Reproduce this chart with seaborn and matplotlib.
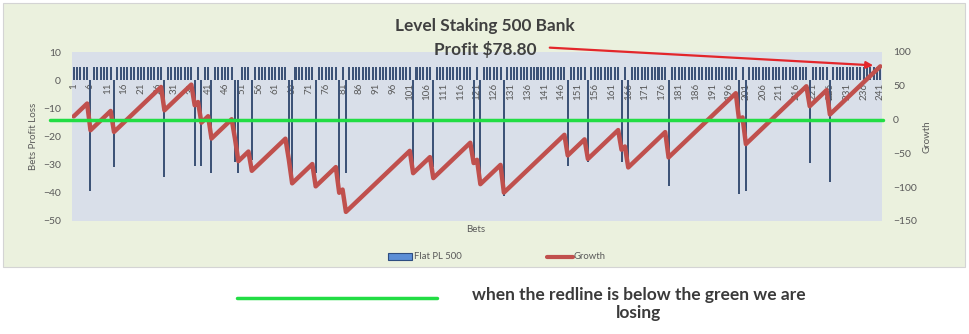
import numpy as np
import pandas as pd
import matplotlib
matplotlib.use("Agg")
import matplotlib.pyplot as plt
from matplotlib.patches import Rectangle, FancyArrowPatch
from matplotlib.lines import Line2D
import seaborn as sns

# Betting record: every bet is a level-stake win unless listed as a loss
n_bets = 241
win_return = 4.75
loss_bets = [6, 13, 28, 37, 39, 42, 49, 50, 54, 65, 66, 73, 80, 82, 102, 108,
             120, 122, 129, 148, 154, 164, 166, 178, 199, 201, 220, 226]
loss_amounts = [39.5, 31.0, 34.5, 30.5, 30.5, 33.0, 29.0, 33.0, 28.5, 30.5,
                35.5, 33.0, 38.0, 33.0, 33.0, 31.0, 30.0, 36.0, 41.0, 30.5,
                29.0, 29.0, 31.0, 37.45, 40.5, 39.5, 29.5, 36.0]
tick_bets = list(range(1, 242, 5))
left_ticks = [-50, -40, -30, -20, -10, 0, 10]
right_ticks = [-150, -100, -50, 0, 50, 100]

bets = np.arange(1, n_bets + 1)
flat_pl = np.full(n_bets, win_return)
for b, amt in zip(loss_bets, loss_amounts):
    flat_pl[b - 1] = -amt
growth = np.cumsum(flat_pl)
final_profit = growth[-1]

df = pd.DataFrame({"Bet": bets, "Flat PL 500": flat_pl, "Growth": growth})

sns.set_style("white")
plt.rcParams["font.family"] = ["Lato", "DejaVu Sans"]

W, H = 970, 334
fig = plt.figure(figsize=(W / 100, H / 100), dpi=100)
fig.patch.set_facecolor("white")

def fx(px):
    return px / W

def fy(py):
    return 1 - py / H

# chart area background
fig.add_artist(Rectangle((fx(3), fy(267)), fx(962), 264 / H,
                         transform=fig.transFigure, facecolor="#EBF1DE",
                         edgecolor="#D4D4D4", lw=0.8, zorder=-5))

ax = fig.add_axes([fx(72), fy(221), fx(810), 169 / H])
ax.set_facecolor("#D9DFE9")

bar_color = "#3D5377"
sns.barplot(data=df, x="Bet", y="Flat PL 500", native_scale=True,
            color=bar_color, saturation=1, width=0.6, errorbar=None,
            linewidth=0, edgecolor=bar_color, ax=ax)
ax.set_ylim(-50, 10)
ax.set_yticks(left_ticks)
ax.set_xticks(tick_bets)
ax.set_xticklabels([str(b) for b in tick_bets])
for s in ax.spines.values():
    s.set_visible(False)
ax.spines["bottom"].set_position(("data", 0))
ax.tick_params(axis="x", length=0, pad=2, labelsize=7, labelcolor="#595959",
               labelrotation=90)
ax.tick_params(axis="y", length=0, pad=8, labelsize=7.5, labelcolor="#595959")
ax.set_xlabel("")
ax.set_ylabel("Bets Profit Loss", fontsize=7, color="#595959")
ax.yaxis.set_label_coords((38 - 72) / 810, 0.5)

ax2 = ax.twinx()
sns.lineplot(data=df, x="Bet", y="Growth", ax=ax2, color="#C0504D",
             lw=3.2, zorder=3)
ax2.set_ylim(-150, 100)
ax2.set_yticks(right_ticks)
for s in ax2.spines.values():
    s.set_visible(False)
ax2.tick_params(axis="y", length=0, pad=8, labelsize=7.5, labelcolor="#595959")
ax2.set_ylabel("Growth", fontsize=7, color="#595959")
ax2.yaxis.set_label_coords((923 - 72) / 810, 0.5)
ax2.set_xlabel("")
ax.set_xlim(0.5, n_bets + 0.5)

# break-even line
ax2.axhline(0, xmin=(50 - 72) / 810, xmax=(883 - 72) / 810,
            color="#22DD44", lw=2.5, clip_on=False, zorder=6)

fig.text(fx(476), fy(230), "Bets", fontsize=7, color="#595959",
         ha="center", va="center")

# titles and pointer to the final profit
title_kw = dict(ha="center", va="center", fontsize=12.4, fontweight="bold",
                color="#404040")
fig.text(fx(485), fy(26), "Level Staking 500 Bank", **title_kw)
fig.text(fx(485), fy(49), f"Profit ${final_profit:.2f}", **title_kw)
fig.add_artist(FancyArrowPatch((fx(547), fy(47.5)), (fx(876), fy(65.5)),
                               transform=fig.transFigure, arrowstyle="-|>",
                               mutation_scale=10, color="#E3262B", lw=1.6,
                               zorder=10))

# legend
fig.add_artist(Rectangle((fx(388), fy(259.5)), fx(23.5), 6.5 / H,
                         transform=fig.transFigure, facecolor="#5B8ED6",
                         edgecolor="#2E4D80", lw=0.8))
fig.text(fx(414), fy(256.5), "Flat PL 500", fontsize=6.8, color="#595959",
         ha="left", va="center")
fig.add_artist(Line2D([fx(547), fx(573)], [fy(256.5), fy(256.5)],
                      transform=fig.transFigure, color="#C0504D", lw=3))
fig.text(fx(574), fy(256.5), "Growth", fontsize=6.8, color="#595959",
         ha="left", va="center")

# note below the chart
fig.add_artist(Line2D([fx(237), fx(437)], [fy(298), fy(298)],
                      transform=fig.transFigure, color="#22DD44", lw=2.5))
fig.text(fx(639), fy(304), "when the redline is below the green we are\nlosing",
         ha="center", va="center", multialignment="center", fontsize=12.5,
         fontweight="bold", color="#3A3A3A", linespacing=1.15)

fig.savefig("out.png", dpi=100, facecolor="white")
